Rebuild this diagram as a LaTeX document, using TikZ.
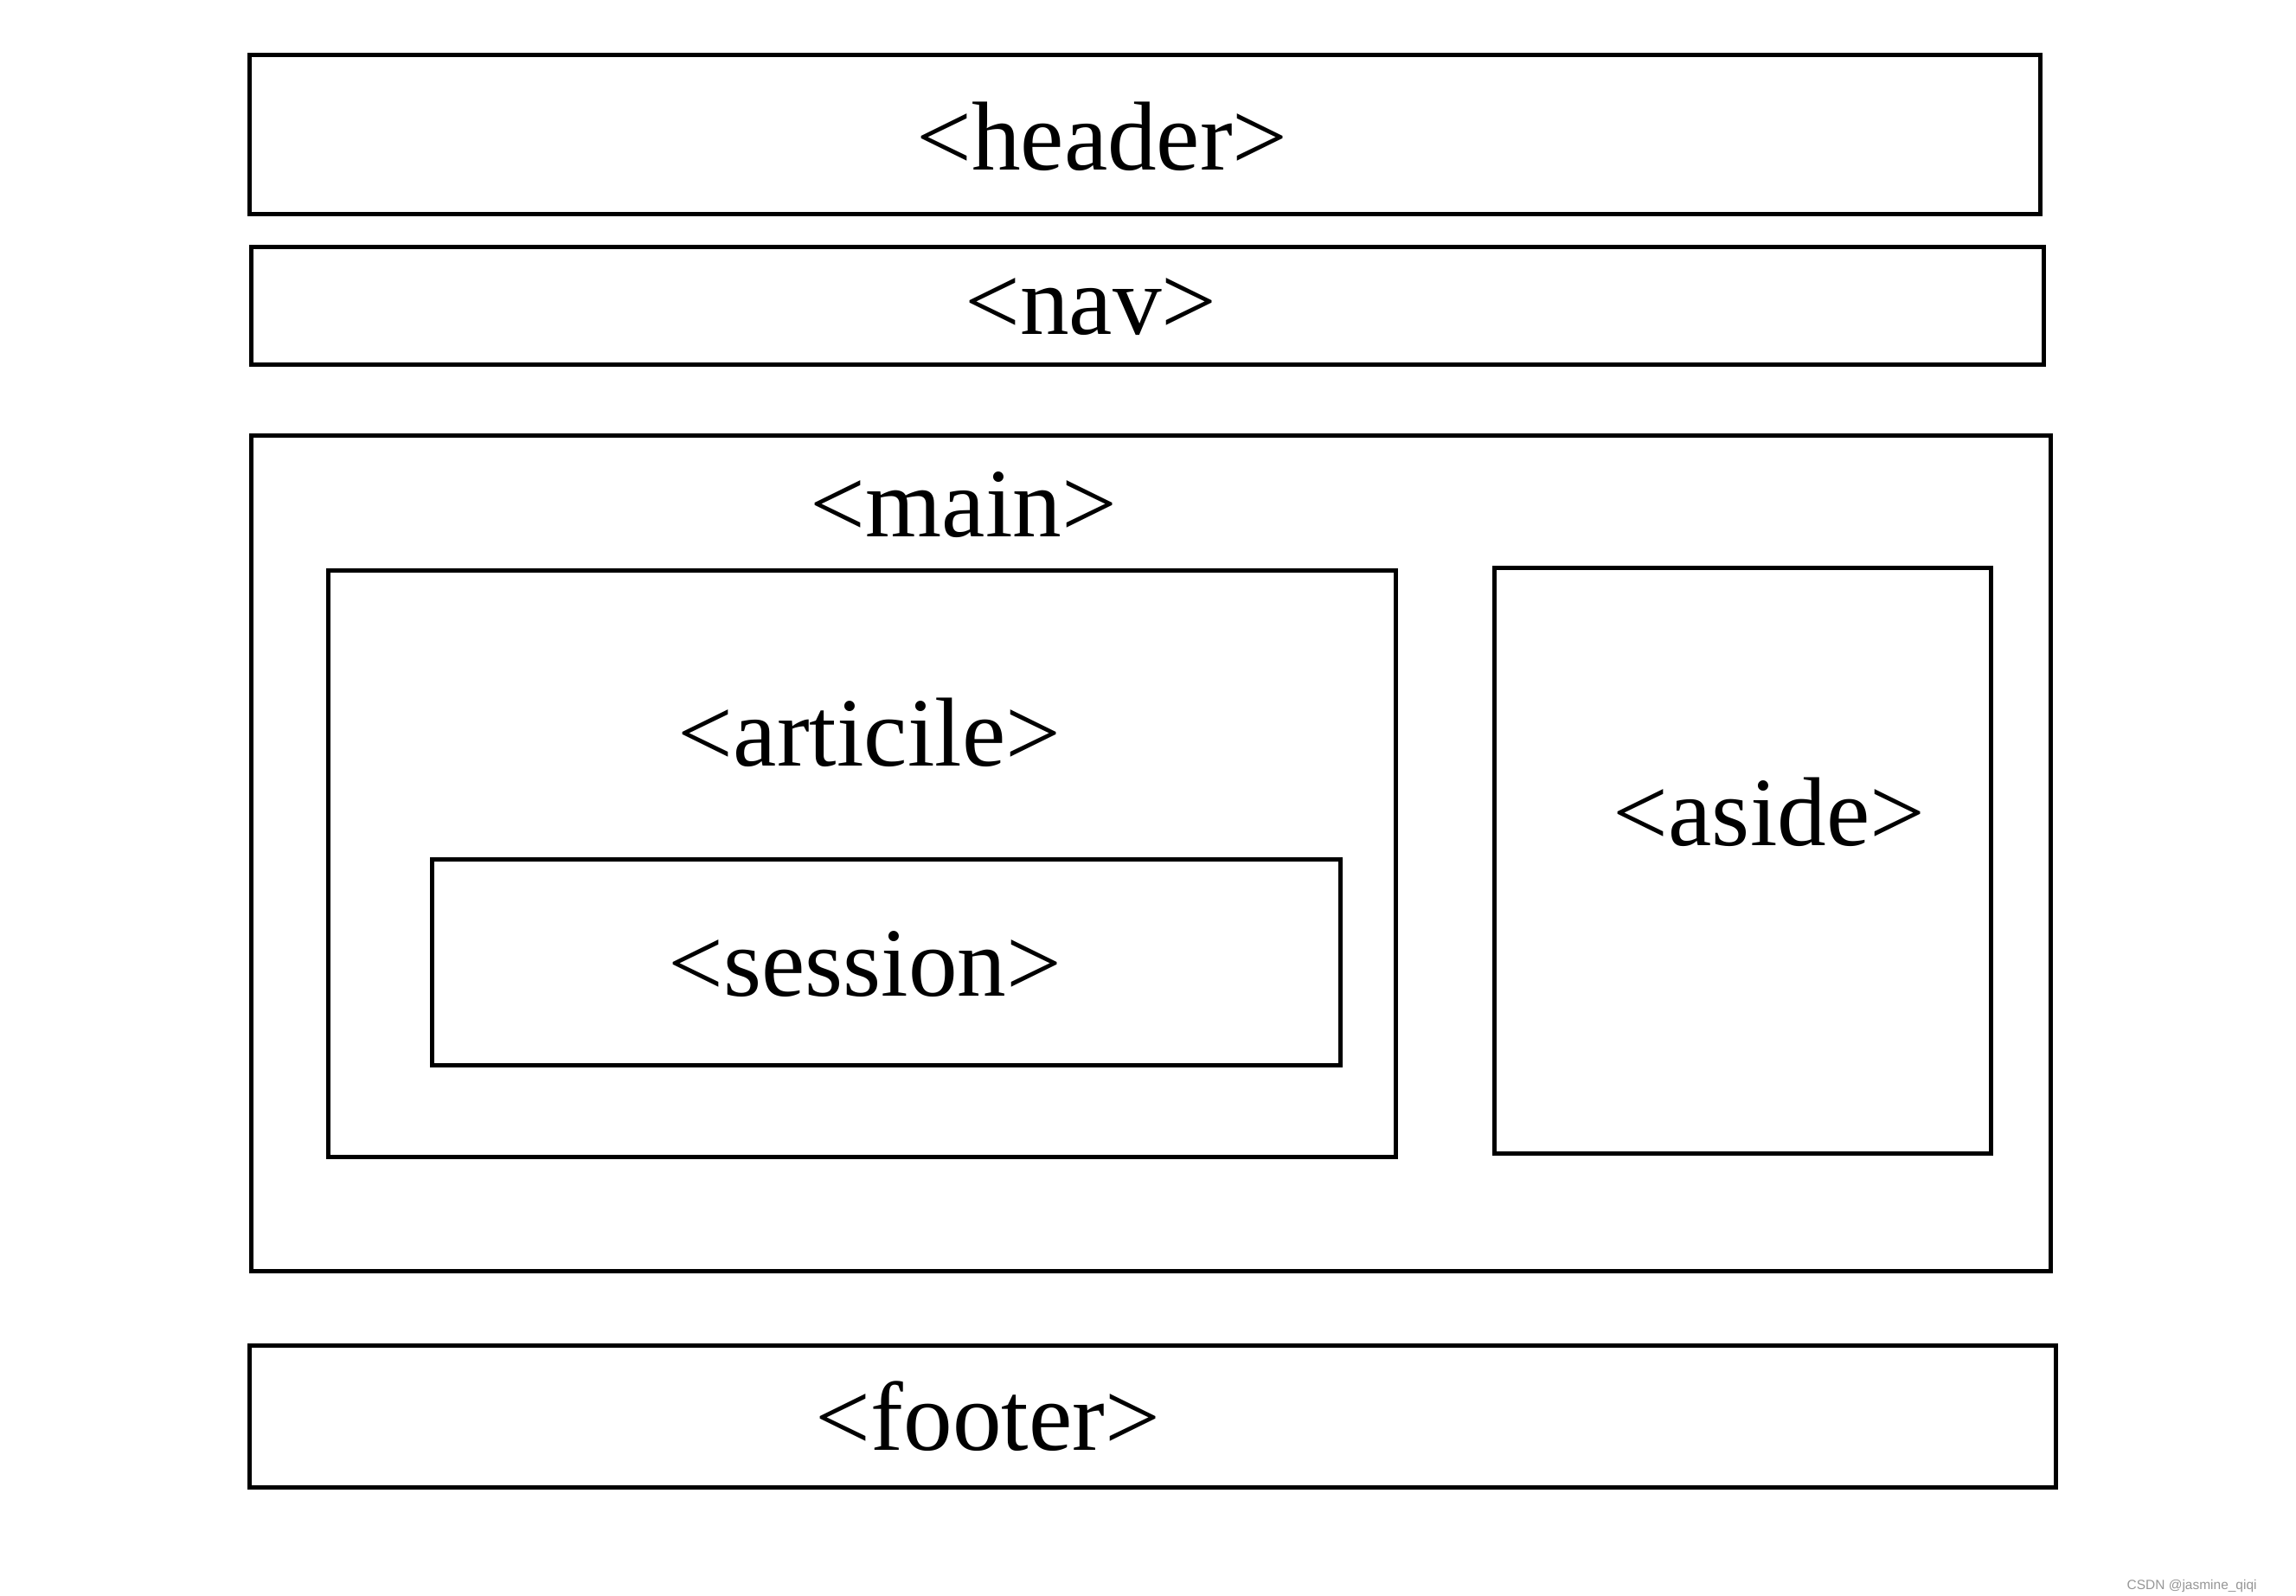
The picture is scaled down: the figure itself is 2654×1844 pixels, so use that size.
\documentclass[tikz,border=0pt]{standalone}
\usepackage{fontspec}
\setmainfont{Liberation Serif}
\newfontfamily\wmfont{Liberation Sans}
\definecolor{wmgray}{RGB}{150,150,150}
\begin{document}
\begin{tikzpicture}[x=0.01cm,y=-0.01cm,
  boxst/.style={draw=black, line width=1.42pt, inner sep=0pt, outer sep=0pt, rectangle},
  lbl/.style={anchor=base, inner sep=0pt, font=\fontsize{32.2}{38}\selectfont},
  wm/.style={anchor=base west, inner sep=0pt, text=wmgray, font=\wmfont\fontsize{4.4}{5}\selectfont}]
\useasboundingbox[fill=white] (0,0) rectangle (2654,1844);
% boxes
\node[boxst, minimum width=20.68cm, minimum height=1.84cm] (header) at (1323.5,155.5) {};
\node[boxst, minimum width=20.70cm, minimum height=1.36cm] (nav) at (1326.5,353.5) {};
\node[boxst, minimum width=20.78cm, minimum height=9.66cm] (main) at (1330.5,986.5) {};
\node[boxst, minimum width=12.335cm, minimum height=6.775cm] (article) at (996.25,998.25) {};
\node[boxst, minimum width=10.495cm, minimum height=2.38cm] (session) at (1024.25,1112.5) {};
\node[boxst, minimum width=5.735cm, minimum height=6.765cm] (aside) at (2014.75,995.25) {};
\node[boxst, minimum width=20.86cm, minimum height=1.64cm] (footer) at (1332.5,1637.5) {};
% labels
\node[lbl] (tHeader) at (1274,196) {<header>};
\node[lbl] (tNav) at (1261,386) {<nav>};
\node[lbl] (tMain) at (1114,620) {<main>};
\node[lbl] (tArticle) at (1005,885) {<articile>};
\node[lbl] (tSession) at (1000,1151) {<session>};
\node[lbl] (tAside) at (2045,977) {<aside>};
\node[lbl] (tFooter) at (1142,1676) {<footer>};
% watermark
\node[wm] (wmark) at (2458,1837) {CSDN @jasmine\_qiqi};
\end{tikzpicture}
\end{document}
